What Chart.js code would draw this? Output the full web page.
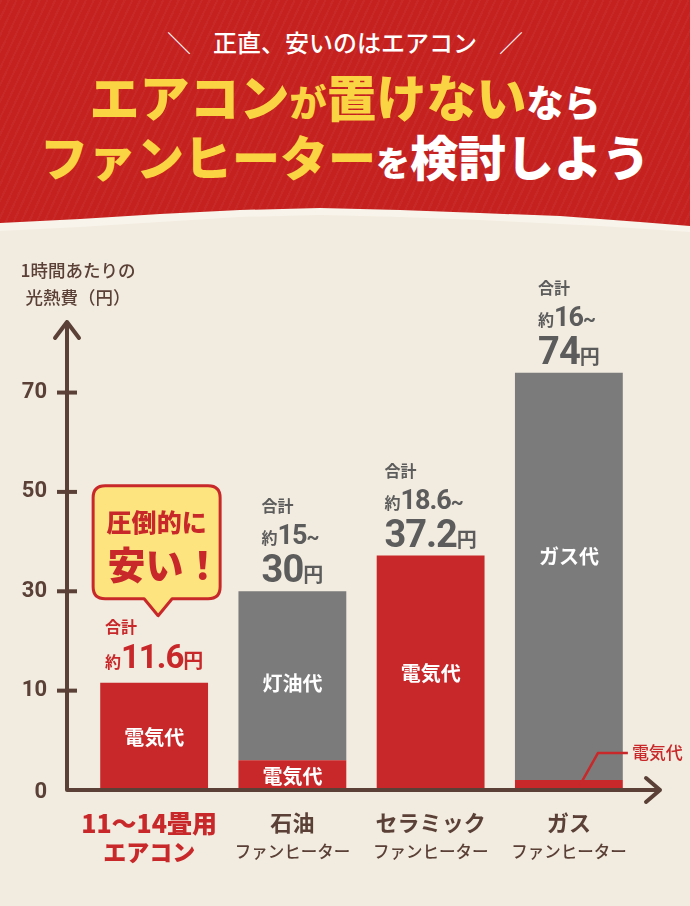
<!DOCTYPE html>
<html lang="ja">
<head>
<meta charset="utf-8">
<script src="https://cdn.jsdelivr.net/npm/chart.js@4.4.1/dist/chart.umd.min.js"></script>
<style>
  html, body { margin: 0; padding: 0; }
  body {
    width: 690px; height: 906px; position: relative; overflow: hidden;
    background: #f2ebdf;
    font-family: "Noto Sans CJK JP", sans-serif;
  }
  #band {
    position: absolute; left: 0; top: 0; width: 690px; height: 240px;
    background: #f8f4eb;
    clip-path: polygon(0 0, 690px 0, 690px 232px, 600px 226px, 480px 220px, 400px 217px, 320px 215px, 240px 217px, 160px 222px, 80px 227px, 0 231px);
  }
  #hdr {
    position: absolute; left: 0; top: 0; width: 690px; height: 230px;
    background-color: #c4211f;
    background-image: repeating-linear-gradient(115deg, rgba(255,255,255,0.035) 0 2px, transparent 2px 7px);
    clip-path: polygon(0 0, 690px 0, 690px 226px, 640px 222px, 560px 216px, 480px 213px, 400px 210px, 320px 208px, 240px 210px, 160px 214px, 80px 219px, 0 223px);
  }
  .line { position: absolute; left: 0; width: 690px; text-align: center; white-space: nowrap; }
  .l1 { top: 25px; line-height: 34px; font-size: 24px; font-weight: 500; color: #fff; }
  .l1 .sl { font-weight: 300; margin: 0 22px; }
  .l2 { top: 66px; line-height: 58px; }
  .l3 { top: 126px; line-height: 58px; }
  .b { font-size: 48px; font-weight: 900; }
  .s { font-size: 34px; font-weight: 900; }
  .l2 .b { font-size: 50px; }
  .l2 .s { font-size: 37px; }
  .y { color: #fbd443; }
  .w { color: #ffffff; }
  #chart { position: absolute; left: 0; top: 0; }
</style>
</head>
<body>
<div id="band"></div>
<div id="hdr">
  <div class="line l1"><span class="sl">＼</span>正直、安いのはエアコン<span class="sl">／</span></div>
  <div class="line l2"><span class="y b">エアコン</span><span class="y s">が</span><span class="y b">置けない</span><span class="w s">なら</span></div>
  <div class="line l3"><span class="y b">ファンヒーター</span><span class="w s">を</span><span class="w b">検討しよう</span></div>
</div>
<canvas id="chart" width="690" height="906"></canvas>
<script>
// data
const categories = ['エアコン', '石油ファンヒーター', 'セラミックファンヒーター', 'ガスファンヒーター'];
const catLine1 = ['11〜14畳用', '石油', 'セラミック', 'ガス'];
const catLine2 = ['エアコン', 'ファンヒーター', 'ファンヒーター', 'ファンヒーター'];
const electricCost = [11.6, 3, 37.2, 1];
const fuelCost = [0, 27, 0, 73];
const fuelNames = ['', '灯油代', '', 'ガス代'];
const electricName = '電気代';
const totalLow = [null, 15, 18.6, 16];
const totalHigh = [11.6, 30, 37.2, 74];
const yTicks = [0, 10, 30, 50, 70];
const yAxisMax = 84;
const yTitle = ['1時間あたりの', '光熱費（円）'];

const brown = '#5a4036';
const red = '#c8282a';
const gray = '#7b7b7b';
const textGray = '#5c5c5c';
const jp = '"Noto Sans CJK JP", sans-serif';
const num = 'Roboto, "Noto Sans CJK JP", sans-serif';

// axis is stretched below 10, compressed above (0-10 takes as much room as 10-30)
const warp = v => (v <= 10 ? v : 10 + (v - 10) / 2);
const unwarp = w => (w <= 10 ? w : 10 + (w - 10) * 2);

class BrokenScale extends Chart.LinearScale {
  getPixelForValue(value, index) { return super.getPixelForValue(warp(value), index); }
  getValueForPixel(pixel) { return unwarp(super.getValueForPixel(pixel)); }
}
BrokenScale.id = 'broken';
BrokenScale.defaults = Chart.LinearScale.defaults;
Chart.register(BrokenScale);

function runsWidth(ctx, runs) {
  let w = 0;
  runs.forEach(r => {
    ctx.font = r.font;
    ctx.letterSpacing = r.ls || '0px';
    w += ctx.measureText(r.text).width;
  });
  ctx.letterSpacing = '0px';
  return w;
}

function drawRuns(ctx, runs, x, y, color) {
  ctx.fillStyle = color;
  ctx.textAlign = 'left';
  ctx.textBaseline = 'alphabetic';
  runs.forEach(r => {
    ctx.font = r.font;
    ctx.letterSpacing = r.ls || '0px';
    ctx.fillText(r.text, x, y);
    x += ctx.measureText(r.text).width;
  });
  ctx.letterSpacing = '0px';
}

const decorations = {
  id: 'decorations',
  afterDatasetsDraw(chart) {
    const ctx = chart.ctx;
    const area = chart.chartArea;
    const yScale = chart.scales.y;
    const y0 = yScale.getPixelForValue(0);
    const x0 = area.left - 18;
    const elec = chart.getDatasetMeta(0).data;
    const fuel = chart.getDatasetMeta(1).data;
    ctx.save();

    // axes with arrows
    ctx.strokeStyle = brown;
    ctx.lineWidth = 4;
    ctx.lineCap = 'round';
    ctx.lineJoin = 'round';
    ctx.beginPath();
    ctx.moveTo(x0, y0);
    ctx.lineTo(x0, area.top - 1);
    ctx.moveTo(x0 - 12, area.top + 15);
    ctx.lineTo(x0, area.top - 1);
    ctx.lineTo(x0 + 12, area.top + 15);
    ctx.moveTo(x0, y0);
    ctx.lineTo(area.right + 22, y0);
    ctx.moveTo(area.right + 8, y0 - 12);
    ctx.lineTo(area.right + 22, y0);
    ctx.lineTo(area.right + 8, y0 + 12);
    ctx.stroke();

    // ticks
    ctx.lineCap = 'butt';
    ctx.fillStyle = brown;
    ctx.font = 'bold 22px ' + num;
    ctx.textAlign = 'right';
    ctx.textBaseline = 'middle';
    yTicks.forEach(t => {
      const y = yScale.getPixelForValue(t);
      if (t > 0) {
        ctx.beginPath();
        ctx.moveTo(x0 - 10, y);
        ctx.lineTo(x0 + 10, y);
        ctx.stroke();
      }
      ctx.fillText(String(t), x0 - 20, y + (t === 0 ? 2 : 0));
    });

    // y title
    ctx.textAlign = 'center';
    ctx.font = '500 17.5px ' + jp;
    ctx.fillText(yTitle[0], 78, 270);
    ctx.fillText(yTitle[1], 78, 297);

    // category labels
    elec.forEach((el, i) => {
      const first = i === 0;
      ctx.fillStyle = first ? red : brown;
      ctx.textAlign = 'center';
      ctx.textBaseline = 'middle';
      ctx.font = (first ? '900 25px ' : 'bold 22px ') + jp;
      ctx.fillText(catLine1[i], el.x - (first ? 5 : 0), 823);
      ctx.font = (first ? '900 23px ' : '500 16.5px ') + jp;
      ctx.fillText(catLine2[i], el.x - (first ? 5 : 0), 852);
    });

    // labels inside bars
    ctx.textAlign = 'center';
    ctx.textBaseline = 'middle';
    elec.forEach((el, i) => {
      const h = el.base - el.y;
      if (!electricCost[i]) return;
      if (h >= 24) {
        ctx.fillStyle = '#ffffff';
        ctx.font = 'bold 20px ' + jp;
        ctx.fillText(electricName, el.x, (el.y + el.base) / 2 + 1);
      } else {
        // small segment: callout to the right
        const sy = (el.y + el.base) / 2;
        ctx.strokeStyle = red;
        ctx.lineWidth = 2.5;
        ctx.beginPath();
        ctx.moveTo(el.x + 11, sy);
        ctx.lineTo(el.x + 29, sy - 32);
        ctx.lineTo(el.x + 59, sy - 32);
        ctx.stroke();
        ctx.fillStyle = red;
        ctx.font = '500 17px ' + jp;
        ctx.textAlign = 'left';
        ctx.fillText(electricName, el.x + 63, sy - 32);
        ctx.textAlign = 'center';
      }
    });
    fuel.forEach((el, i) => {
      if (!fuelCost[i]) return;
      ctx.fillStyle = '#ffffff';
      ctx.font = 'bold 20px ' + jp;
      ctx.fillText(fuelNames[i], el.x, (el.y + el.base) / 2 + (i === 3 ? -20 : 8));
    });

    // totals above bars
    elec.forEach((el, i) => {
      const top = Math.min(el.y, fuel[i].y);
      const color = i === 0 ? red : textGray;
      let lines;
      if (totalLow[i] == null) {
        lines = [
          { base: top - 50, runs: [{ text: '合計', font: 'bold 16px ' + jp }] },
          { base: top - 15, runs: [
            { text: '約', font: 'bold 16px ' + jp },
            { text: String(totalHigh[i]), font: 'bold 33px ' + num, ls: '-1px' },
            { text: '円', font: 'bold 20px ' + jp }
          ] }
        ];
      } else {
        lines = [
          { base: top - 79, runs: [{ text: '合計', font: 'bold 16px ' + jp }] },
          { base: top - 47, runs: [
            { text: '約', font: 'bold 16px ' + jp },
            { text: String(totalLow[i]), font: 'bold 27px ' + num, ls: '-1px' },
            { text: '~', font: 'bold 20px ' + num }
          ] },
          { base: top - 9, runs: [
            { text: String(totalHigh[i]), font: 'bold 38px ' + num, ls: '-1px' },
            { text: '円', font: 'bold 20px ' + jp }
          ] }
        ];
      }
      const widths = lines.map(l => runsWidth(ctx, l.runs));
      const left = el.x - Math.max(...widths) / 2;
      lines.forEach(l => drawRuns(ctx, l.runs, left, l.base, color));
    });

    // speech bubble over the cheapest bar
    const a = elec[0];
    const aTop = a.y;
    const bx = a.x - 61, by = aTop - 197, bw = 127, bh = 113, r = 12;
    const tipX = a.x + 4;
    ctx.beginPath();
    ctx.moveTo(bx + r, by);
    ctx.lineTo(bx + bw - r, by);
    ctx.quadraticCurveTo(bx + bw, by, bx + bw, by + r);
    ctx.lineTo(bx + bw, by + bh - r);
    ctx.quadraticCurveTo(bx + bw, by + bh, bx + bw - r, by + bh);
    ctx.lineTo(tipX + 14, by + bh);
    ctx.lineTo(tipX, by + bh + 17);
    ctx.lineTo(tipX - 14, by + bh);
    ctx.lineTo(bx + r, by + bh);
    ctx.quadraticCurveTo(bx, by + bh, bx, by + bh - r);
    ctx.lineTo(bx, by + r);
    ctx.quadraticCurveTo(bx, by, bx + r, by);
    ctx.closePath();
    ctx.fillStyle = '#fde47f';
    ctx.fill();
    ctx.strokeStyle = red;
    ctx.lineWidth = 3;
    ctx.lineJoin = 'round';
    ctx.stroke();
    ctx.fillStyle = red;
    ctx.textAlign = 'center';
    ctx.textBaseline = 'middle';
    ctx.font = '900 25px ' + jp;
    ctx.fillText('圧倒的に', bx + bw / 2, aTop - 160);
    ctx.font = '900 38px ' + jp;
    ctx.fillText('安い！', bx + bw / 2 + 8, aTop - 118);

    ctx.restore();
  }
};

new Chart(document.getElementById('chart'), {
  type: 'bar',
  data: {
    labels: categories,
    datasets: [
      {
        label: electricName,
        data: electricCost,
        backgroundColor: red,
        borderWidth: 0,
        barPercentage: 0.78,
        categoryPercentage: 1
      },
      {
        label: '燃料代',
        data: fuelCost,
        backgroundColor: gray,
        borderWidth: 0,
        barPercentage: 0.78,
        categoryPercentage: 1
      }
    ]
  },
  options: {
    responsive: false,
    animation: false,
    layout: { padding: { top: 323, bottom: 116, left: 85, right: 52 } },
    plugins: {
      legend: { display: false },
      tooltip: { enabled: false }
    },
    scales: {
      x: { stacked: true, display: false },
      y: { type: 'broken', stacked: true, display: false, min: 0, max: warp(yAxisMax) }
    }
  },
  plugins: [decorations]
});
</script>
</body>
</html>
